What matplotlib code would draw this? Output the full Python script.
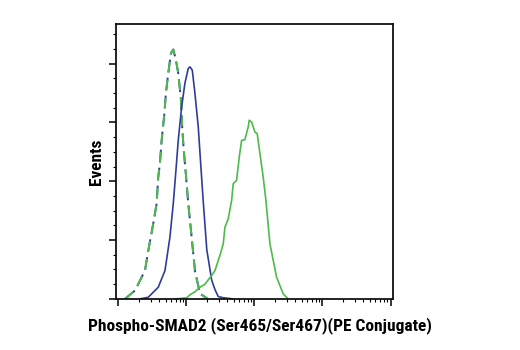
import numpy as np
import matplotlib
matplotlib.use("Agg")
import matplotlib.pyplot as plt
from matplotlib.ticker import MultipleLocator, LogLocator, NullFormatter

# log10 fluorescence vs. event counts for each histogram
ctrl_log = [0.098, 0.245, 0.392, 0.441, 0.514, 0.564, 0.587, 0.612, 0.637, 0.675,
            0.700, 0.734, 0.774, 0.808, 0.847, 0.881, 0.920, 0.940, 0.960, 0.990,
            1.028, 1.078, 1.126, 1.200, 1.317]
ctrl_cnt = [0, 7.1, 24.1, 41.1, 64.1, 81.2, 103.6, 115.2, 134.8, 156.1,
            174.9, 191.9, 208.9, 212.1, 203.0, 191.9, 170.0, 145.0, 128.0, 108.0,
            81.2, 52.5, 24.1, 4.5, 0]

blue_log = [0.319, 0.441, 0.587, 0.686, 0.759, 0.808, 0.847, 0.881, 0.931, 0.979,
            1.028, 1.053, 1.087, 1.126, 1.175, 1.214, 1.248, 1.300, 1.372, 1.420,
            1.468, 1.542, 1.684]
blue_cnt = [0, 1.4, 9.9, 24.1, 52.5, 81.2, 109.3, 134.8, 163.2, 183.4,
            195.9, 197.3, 194.5, 174.9, 146.2, 112.1, 83.0, 42.0, 16.0, 8.0,
            2.0, 1.0, 0]

green_log = [0.833, 1.004, 1.053, 1.126, 1.200, 1.273, 1.372, 1.420, 1.500, 1.542,
             1.567, 1.615, 1.665, 1.689, 1.738, 1.777, 1.812, 1.860, 1.909, 1.924,
             1.959, 2.007, 2.041, 2.081, 2.129, 2.169, 2.228, 2.326, 2.423, 2.496]
green_cnt = [0, 0.9, 3.5, 6.0, 9.9, 12.5, 20.0, 24.0, 38.3, 46.8,
             61.0, 68.1, 83.7, 98.0, 100.8, 120.6, 134.8, 135.4, 146.2, 151.9,
             150.4, 141.9, 140.5, 123.5, 103.6, 83.7, 46.8, 18.4, 4.3, 0]

blue = "#2e3d9c"
green = "#4dbb4a"

fig = plt.figure(figsize=(5.2, 3.5), dpi=100)
ax = fig.add_axes([0.223, 0.146, 0.532, 0.785])

# isotype control: blue and green dashes interleaved on the same trace
x_ctrl = 10 ** np.array(ctrl_log)
ax.plot(x_ctrl, ctrl_cnt, color=blue, lw=1.4, linestyle=(0, (6.6, 2.7)))
ax.plot(x_ctrl, ctrl_cnt, color=green, lw=1.4, linestyle=(0, (5.6, 3.7)))
ax.plot(10 ** np.array(blue_log), blue_cnt, color=blue, lw=1.2)
ax.plot(10 ** np.array(green_log), green_cnt, color=green, lw=1.2)

ax.set_xscale("log")
ax.set_xlim(10 ** -0.034, 10 ** 4.03)
ax.set_ylim(0, 233.6)
ax.xaxis.set_major_locator(LogLocator(base=10, numticks=10))
ax.xaxis.set_minor_locator(LogLocator(base=10, subs=np.arange(2, 10), numticks=10))
ax.xaxis.set_major_formatter(NullFormatter())
ax.xaxis.set_minor_formatter(NullFormatter())
ax.yaxis.set_major_locator(MultipleLocator(50))
ax.yaxis.set_minor_locator(MultipleLocator(12.5))
ax.yaxis.set_major_formatter(NullFormatter())

ax.tick_params(which="major", length=5, width=1.1, color="black")
ax.tick_params(which="minor", length=2.5, width=0.8, color="black")
for s in ax.spines.values():
    s.set_linewidth(1.3)
    s.set_color("#111111")

font = dict(family=["Roboto Condensed", "DejaVu Sans"], weight="bold", size=12.5)
fig.text(0.5, 0.055, "Phospho-SMAD2 (Ser465/Ser467)(PE Conjugate)", ha="center",
         va="baseline", **font)
fig.text(0.185, 0.537, "Events", rotation=90, ha="center", va="center", **font)

fig.savefig("out.png", dpi=100)
